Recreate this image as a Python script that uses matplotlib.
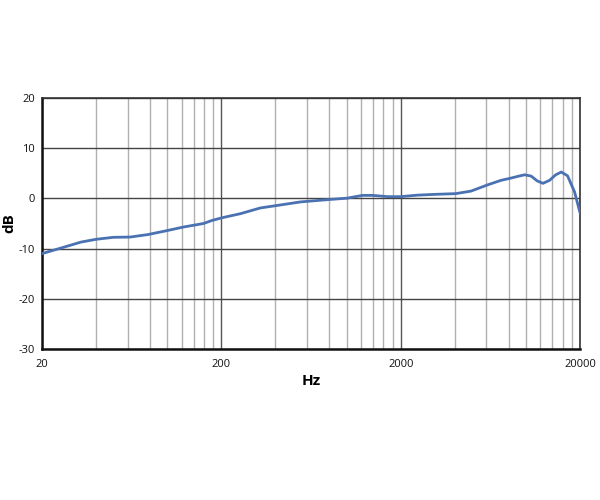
import numpy as np
import matplotlib.pyplot as plt
from matplotlib.ticker import FixedLocator, NullFormatter

plt.rcParams['font.family'] = ['Open Sans', 'DejaVu Sans']
plt.rcParams['axes.unicode_minus'] = False

# frequency response
freq = [20, 26, 33, 40, 50, 62, 78, 100, 123, 159, 177, 202, 255, 330, 410, 552,
        813, 1007, 1222, 1390, 1690, 2000, 2480, 3070, 4050, 4920, 6100, 7240,
        8240, 9000, 9800, 10650, 11500, 12400, 13500, 14600, 15700, 17000,
        18600, 20000]
db = [-11.0, -9.8, -8.7, -8.15, -7.75, -7.7, -7.2, -6.4, -5.7, -5.0, -4.4, -3.85,
      -3.05, -1.9, -1.4, -0.7, -0.2, 0.05, 0.6, 0.6, 0.35, 0.35, 0.65, 0.8,
      0.95, 1.45, 2.7, 3.6, 4.05, 4.4, 4.7, 4.45, 3.5, 3.0, 3.6, 4.7, 5.25,
      4.5, 1.3, -3.0]

major_hz = [20, 200, 2000, 20000]
minor_hz = [m * d for d in (20, 200, 2000) for m in range(2, 10)]
y_ticks = [-30, -20, -10, 0, 10, 20]

fig = plt.figure(figsize=(6, 5), dpi=100)
ax = fig.add_axes([0.07, 0.302, 0.897, 0.502])

ax.set_xscale('log')
ax.set_xlim(20, 20000)
ax.set_ylim(-30, 20)

ax.xaxis.set_major_locator(FixedLocator(major_hz))
ax.xaxis.set_minor_locator(FixedLocator(minor_hz))
ax.xaxis.set_minor_formatter(NullFormatter())
ax.set_xticklabels([str(v) for v in major_hz])
ax.set_yticks(y_ticks)

ax.grid(True, which='minor', axis='x', color='#b0b0b0', linewidth=1.0)
ax.grid(True, which='major', axis='x', color='#555555', linewidth=1.0)
ax.grid(True, which='major', axis='y', color='#444444', linewidth=1.0)
ax.set_axisbelow(True)

ax.plot(freq, db, color='#4a72b2', linewidth=2.0, solid_capstyle='round', zorder=3)

ax.tick_params(which='both', length=0, labelsize=8, pad=5, colors='#111111')
ax.tick_params(axis='x', pad=7)
for side in ('left', 'bottom'):
    ax.spines[side].set_linewidth(1.8)
    ax.spines[side].set_color('#111111')
for side in ('top', 'right'):
    ax.spines[side].set_linewidth(1.2)
    ax.spines[side].set_color('#333333')

ax.set_xlabel('Hz', fontsize=11, fontweight='bold', labelpad=3)
fig.text(9 / 600, 1 - 223 / 500, 'dB', rotation=90, ha='center', va='center',
         fontsize=11, fontweight='bold')

fig.savefig('out.png', dpi=100)
